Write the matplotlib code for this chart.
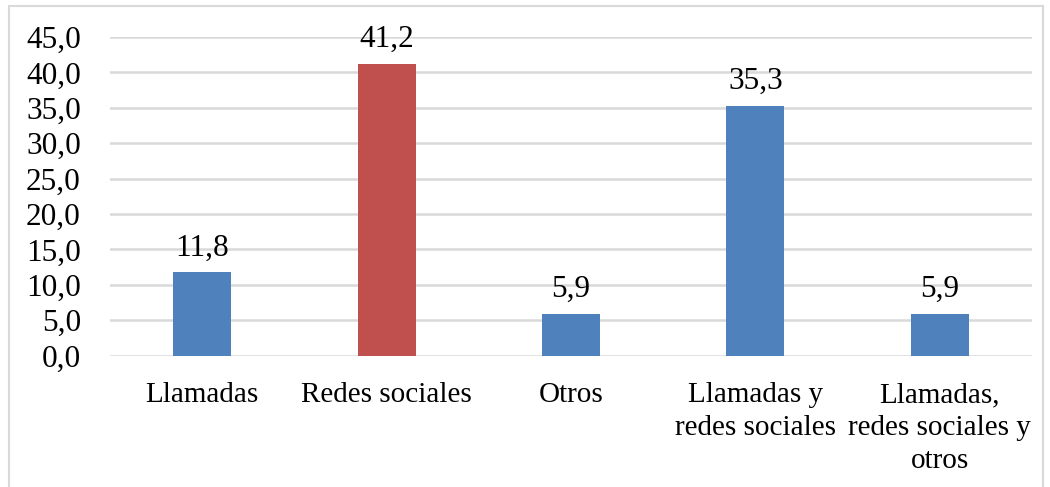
import matplotlib.pyplot as plt
from matplotlib.patches import Rectangle

# data
categories = ["Llamadas", "Redes sociales", "Otros",
              "Llamadas y\nredes sociales", "Llamadas,\nredes sociales y\notros"]
values = [11.8, 41.2, 5.9, 35.3, 5.9]
bar_colors = ["#4F81BD", "#C0504D", "#4F81BD", "#4F81BD", "#4F81BD"]
y_ticks = [0, 5, 10, 15, 20, 25, 30, 35, 40, 45]

plt.rcParams['font.family'] = ['Liberation Serif', 'DejaVu Serif']

fig = plt.figure(figsize=(10.5, 4.87), dpi=100)
ax = fig.add_axes([110 / 1050, 1 - 355.7 / 487, (1032 - 110) / 1050, (355.7 - 37) / 487])

x = list(range(len(categories)))
bars = ax.bar(x, values, width=0.315, color=bar_colors, zorder=3)

for xi, v in zip(x, values):
    ax.annotate(f"{v:.1f}".replace(".", ","), (xi, v), xytext=(0, 12),
                textcoords="offset points", ha="center", va="baseline", fontsize=22.5)

ax.set_xlim(-0.5, len(categories) - 0.5)
ax.set_ylim(0, 45)
ax.set_yticks(y_ticks)
ax.set_yticklabels([f"{t:.1f}".replace(".", ",") for t in y_ticks], fontsize=22.5)
ax.set_xticks(x)
ax.set_xticklabels(categories, fontsize=21, linespacing=1.34)
ax.tick_params(axis="both", length=0)
ax.tick_params(axis="y", pad=21)
ax.tick_params(axis="x", pad=19)
ax.grid(axis="y", color="#D9D9D9", linewidth=1.8, zorder=0)
for s in ax.spines.values():
    s.set_visible(False)

# light grey frame around the chart area
fig.patches.append(Rectangle((9 / 1050, -0.05), (1043 - 9) / 1050, 1 - 6 / 487 + 0.05,
                             transform=fig.transFigure, fill=False,
                             edgecolor="#D9D9D9", linewidth=1.5))

fig.savefig("out.png", dpi=100)
